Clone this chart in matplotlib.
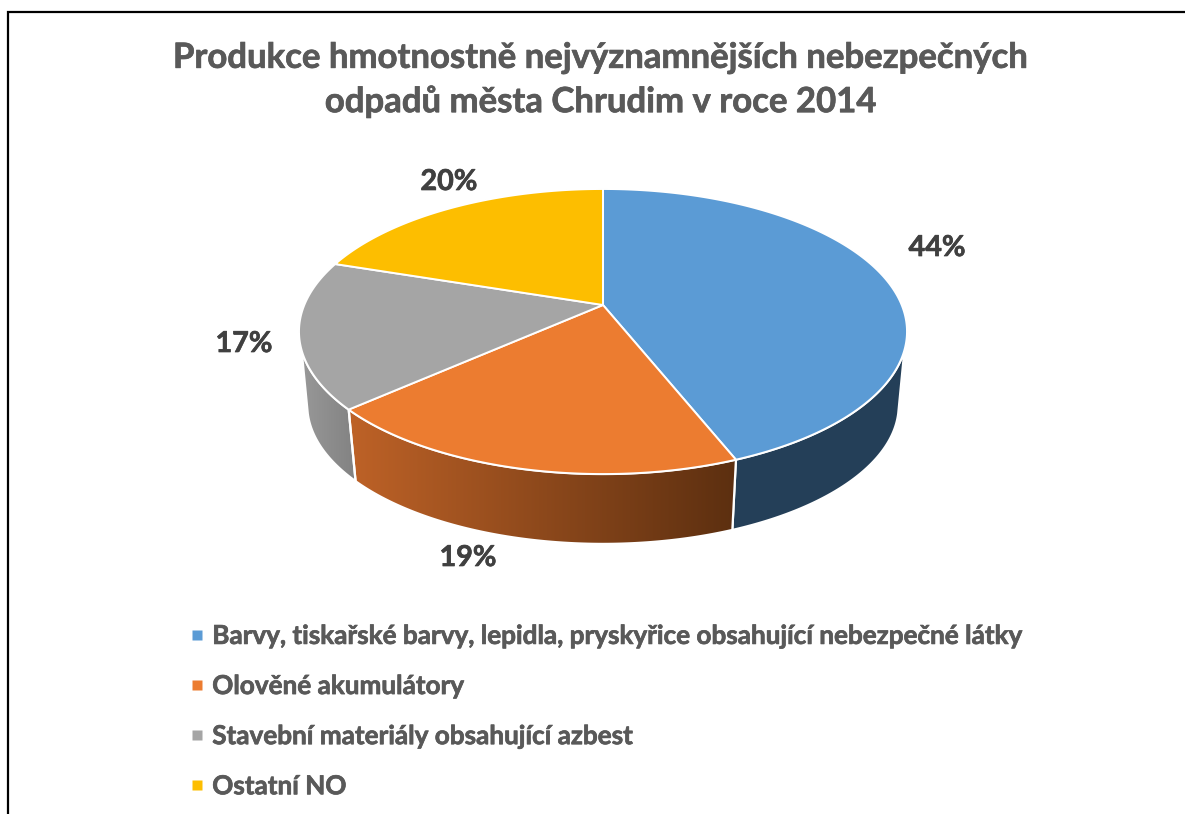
import numpy as np
import matplotlib
matplotlib.use("Agg")
import matplotlib.pyplot as plt
import matplotlib.patheffects as pe
from matplotlib.patches import Polygon
from matplotlib.lines import Line2D
from matplotlib.colors import LinearSegmentedColormap

categories = ["Barvy, tiskařské barvy, lepidla, pryskyřice obsahující nebezpečné látky",
              "Olověné akumulátory",
              "Stavební materiály obsahující azbest",
              "Ostatní NO"]
values = [44.0, 19.4, 16.7, 19.9]
pct_labels = ["44%", "19%", "17%", "20%"]
title = "Produkce hmotnostně nejvýznamnějších nebezpečných\nodpadů města Chrudim v roce 2014"
colors = ["#5B9BD5", "#EC7C30", "#A5A5A5", "#FDBE00"]

FONT = "Lato"
TXT = "#595959"
LAB = "#404040"

fig = plt.figure(figsize=(11.85, 8.14), dpi=100, facecolor="white")
ax = fig.add_axes([0, 0, 1, 1])
ax.set_xlim(0, 1185)
ax.set_ylim(814, 0)
ax.axis("off")

CX, K = 603.0, 0.186
TOP = dict(cy=305.0, rx=298.7, ry=137.6)
BOT = dict(cy=379.4, rx=290.6, ry=133.9)


def rim(deg, ring):
    t = np.radians(deg)
    u, v = np.sin(t), np.cos(t)
    d = 1 + K * v
    return np.column_stack([CX + ring["rx"] * u / d, ring["cy"] - ring["ry"] * v / d])


def arc(a, b, ring):
    return rim(np.linspace(a, b, max(int(abs(b - a) * 3), 2)), ring)


edges = np.concatenate([[0], np.cumsum(values)]) / sum(values) * 360
SIL_TOP, SIL_BOT = 108.0, 104.0


def side_poly(a, b):
    ta, tb = a, b
    ba, bb = a, b
    if a < SIL_TOP:
        ta, ba = SIL_TOP, SIL_BOT
    if b > 360 - SIL_TOP:
        tb, bb = 360 - SIL_TOP, 360 - SIL_BOT
    return np.vstack([arc(ta, tb, TOP), arc(bb, ba, BOT)])


def gradient_side(poly, c0, c1, z):
    cmap = LinearSegmentedColormap.from_list("g", [c0, c1])
    x0, x1 = poly[:, 0].min(), poly[:, 0].max()
    y0, y1 = poly[:, 1].min(), poly[:, 1].max()
    im = ax.imshow(np.linspace(0, 1, 256)[None, :], cmap=cmap, aspect="auto",
                   extent=[x0, x1, y1, y0], zorder=z)
    clip = Polygon(poly, transform=ax.transData, fc="none", ec="none")
    ax.add_patch(clip)
    im.set_clip_path(clip)
    ax.add_patch(Polygon(poly, fc="none", ec="white", lw=1.6, zorder=z + 0.1, joinstyle="round"))


# sides
p_blue = side_poly(edges[0], edges[1])
ax.add_patch(Polygon(p_blue, fc="#243F58", ec="white", lw=1.6, zorder=2))
gradient_side(side_poly(edges[1], edges[2]), "#BE6227", "#5C2F10", 2)
gradient_side(side_poly(edges[2], edges[3]), "#989898", "#828282", 2)

# top faces
for i, c in enumerate(colors):
    pts = np.vstack([[[CX, TOP["cy"]]], arc(edges[i], edges[i + 1], TOP)])
    ax.add_patch(Polygon(pts, fc=c, ec="white", lw=1.4, zorder=3, joinstyle="round"))

ax.set_xlim(0, 1185)
ax.set_ylim(814, 0)

# frame
ax.plot([1185, 7.5, 7.5], [11.5, 11.5, 814], color="black", lw=1.6, zorder=1,
        solid_joinstyle="miter", clip_on=False)


def heavy(color, w=0.5):
    return [pe.withStroke(linewidth=w, foreground=color)]


# title
ax.text(601, 80, title, ha="center", va="center", fontsize=25, fontweight="bold",
        color=TXT, family=FONT, linespacing=1.42, path_effects=heavy(TXT))

# data labels
label_pos = [(937, 248), (468, 558), (244, 344), (449, 182)]
for s, (x, y) in zip(pct_labels, label_pos):
    ax.text(x, y, s, ha="center", va="center", fontsize=20.7, fontweight="bold",
            color=LAB, family=FONT, path_effects=heavy(LAB))

# legend
handles = [Line2D([], [], ls="none", marker="s", ms=7.2, mfc=c, mec="none") for c in colors]
leg = ax.legend(handles, categories, loc="upper left", bbox_to_anchor=(0.1575, 0.2335),
                frameon=False, handlelength=0.8, handletextpad=0.18, labelspacing=1.0,
                borderpad=0, borderaxespad=0,
                prop={"family": FONT, "weight": "bold", "size": 18.8})
for t in leg.get_texts():
    t.set_color(TXT)
    t.set_path_effects(heavy(TXT))

fig.savefig("out.png", dpi=100)
